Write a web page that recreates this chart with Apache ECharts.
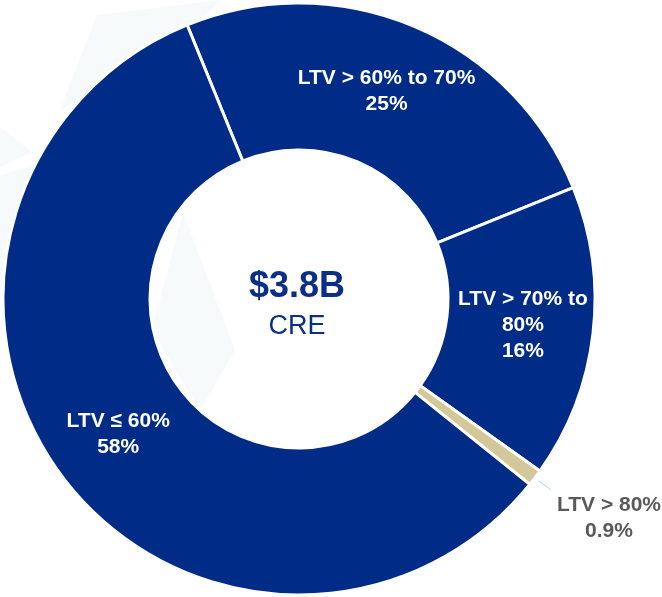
<!DOCTYPE html>
<html>
<head>
<meta charset="utf-8">
<script src="https://cdn.jsdelivr.net/npm/echarts@6/dist/echarts.min.js"></script>
<style>
  html, body { margin: 0; padding: 0; background: #fff; }
  #container { width: 662px; height: 597px; }
</style>
</head>
<body>
<div id="container"></div>
<script>
// slices, clockwise from the top-left divider
var categories = ['LTV > 60% to 70%', 'LTV > 70% to 80%', 'LTV > 80%', 'LTV ≤ 60%'];
var labelNames = ['LTV > 60% to 70%', 'LTV > 70% to\n80%', 'LTV > 80%', 'LTV ≤ 60%'];
var shares = [25, 16, 0.9, 58];                 // percent of CRE balance
var sliceColors = ['#002B87', '#002B87', '#D3C89A', '#002B87'];
var centerTitle = '$3.8B';
var centerSub = 'CRE';

var dom = document.getElementById('container');
var myChart = echarts.init(dom, null, { renderer: 'canvas' });

var pieData = categories.map(function (name, i) {
  var item = { name: name, value: shares[i], itemStyle: { color: sliceColors[i] } };
  if (shares[i] < 5) {
    // thin slice gets its label outside with a short leader line
    item.label = { position: 'outside', color: '#5A5A5A' };
    item.labelLine = { show: true, length: 20, length2: 0, lineStyle: { color: '#A9D6DA', width: 1 } };
  }
  return item;
});

// faint watermark shapes behind the donut
var bgShapes = [
  [[97, 15], [222, 0], [150, 60], [60, 110]],
  [[0, 127], [32, 152], [0, 167]],
  [[0, 175], [90, 150], [40, 260], [0, 290]],
  [[183, 213], [235, 350], [200, 410], [152, 330]]
];

var option = {
  backgroundColor: '#ffffff',
  graphic: bgShapes.map(function (pts) {
    return { type: 'polygon', z: -10, shape: { points: pts }, style: { fill: '#F6FAFA' } };
  }).concat([
    { type: 'text', z: 10, x: 297, y: 287,
      style: { text: centerTitle, align: 'center', verticalAlign: 'middle',
               font: 'bold 36px "Liberation Sans", Arial, sans-serif', fill: '#0B2E86' } },
    { type: 'text', z: 10, x: 297, y: 327,
      style: { text: centerSub, align: 'center', verticalAlign: 'middle',
               font: '27px "Liberation Sans", Arial, sans-serif', fill: '#0B2E86' } }
  ]),
  series: [
    {
      type: 'pie',
      center: [299, 299],
      radius: [149, 296],
      startAngle: 112.2,
      clockwise: true,
      avoidLabelOverlap: false,
      silent: true,
      itemStyle: { borderColor: '#ffffff', borderWidth: 3 },
      label: {
        show: true,
        position: 'inside',
        color: '#ffffff',
        fontFamily: '"Liberation Sans", Arial, sans-serif',
        fontWeight: 'bold',
        fontSize: 21,
        lineHeight: 26,
        align: 'center',
        formatter: function (p) {
          return labelNames[p.dataIndex] + '\n' + p.value + '%';
        }
      },
      labelLine: { show: false },
      labelLayout: function (params) {
        if (shares[params.dataIndex] < 5) {
          var pts = params.labelLinePoints;
          var a = pts[0], b = pts[1];
          var s = [a[0] + (b[0] - a[0]) * 0.25, a[1] + (b[1] - a[1]) * 0.25];
          return {
            x: 609, y: 518, align: 'center', verticalAlign: 'middle',
            labelLinePoints: [s, b, b]
          };
        }
        return {};
      },
      data: pieData
    }
  ]
};

myChart.setOption(option);
window.addEventListener('resize', myChart.resize);
</script>
</body>
</html>
